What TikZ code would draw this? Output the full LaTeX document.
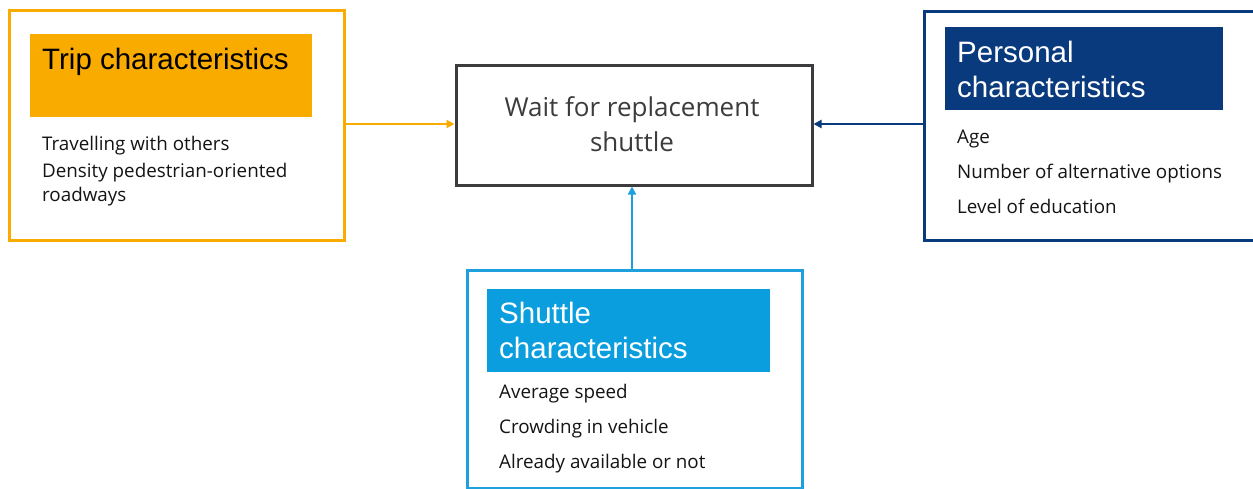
\documentclass[tikz,border=0pt]{standalone}
\usepackage{fontspec}
\setmainfont{Open Sans}
\newfontfamily\headfont{Liberation Sans}
\usetikzlibrary{arrows.meta}
\definecolor{tripor}{RGB}{250,171,0}
\definecolor{persblue}{RGB}{10,58,126}
\definecolor{shutblue}{RGB}{10,158,222}
\definecolor{shutline}{RGB}{30,160,222}
\definecolor{centgray}{RGB}{60,60,62}
\definecolor{centtxt}{RGB}{60,60,60}
\definecolor{bodytxt}{RGB}{20,20,20}
\tikzset{
  frame/.style={draw, line width=3pt, fill=white, inner sep=0pt, anchor=north west},
  header/.style={inner sep=0pt, anchor=north west},
  headtxt/.style={anchor=base west, inner sep=0pt, font=\headfont\fontsize{29.5}{35}\selectfont},
  bodyt/.style={anchor=base west, inner sep=0pt, text=bodytxt, font=\fontsize{18.8}{22}\selectfont},
  centt/.style={anchor=base, inner sep=0pt, text=centtxt, font=\fontsize{26}{30}\selectfont},
  conn/.style={line width=2pt, -{Triangle[length=8pt,width=8pt]}}
}
\begin{document}
\begin{tikzpicture}[x=1pt,y=-1pt]
\useasboundingbox[fill=white] (0,0) rectangle (1253,488);
% left box
\node[frame, draw=tripor, minimum width=335pt, minimum height=230pt] (trip) at (7.5,8.5) {};
\node[header, fill=tripor, minimum width=282pt, minimum height=83pt] (triph) at (30,34) {};
\node[headtxt, text=black] (tript) at (42,69) {Trip characteristics};
\node[bodyt] (trip1) at (42,150) {Travelling with others};
\node[bodyt] (trip2) at (42,177) {Density pedestrian-oriented};
\node[bodyt] (trip3) at (42,201) {roadways};
% center box
\node[frame, draw=centgray, minimum width=356pt, minimum height=120pt] (wait) at (454.5,63.5) {};
\node[centt] (wait1) at (632,116) {Wait for replacement};
\node[centt] (wait2) at (632,151) {shuttle};
% right box
\node[frame, draw=persblue, minimum width=340pt, minimum height=229pt] (pers) at (922.5,9.5) {};
\node[header, fill=persblue, minimum width=278pt, minimum height=83pt] (persh) at (945,27) {};
\node[headtxt, text=white] (perst1) at (957,62) {Personal};
\node[headtxt, text=white] (perst2) at (957,97) {characteristics};
\node[bodyt] (pers1) at (957,143) {Age};
\node[bodyt] (pers2) at (957,178) {Number of alternative options};
\node[bodyt] (pers3) at (957,213) {Level of education};
% bottom box
\node[frame, draw=shutline, minimum width=335pt, minimum height=218pt] (shut) at (465.5,268.5) {};
\node[header, fill=shutblue, minimum width=283pt, minimum height=83pt] (shuth) at (487,289) {};
\node[headtxt, text=white] (shutt1) at (499,323) {Shuttle};
\node[headtxt, text=white] (shutt2) at (499,358) {characteristics};
\node[bodyt] (shut1) at (499,398) {Average speed};
\node[bodyt] (shut2) at (499,433) {Crowding in vehicle};
\node[bodyt] (shut3) at (499,468) {Already available or not};
% connectors
\draw[conn, draw=tripor, fill=tripor] (trip.east |- 0,124) -- (wait.west |- 0,124);
\draw[conn, draw=persblue, fill=persblue] (pers.west |- 0,124) -- (wait.east |- 0,124);
\draw[conn, draw=shutline, fill=shutline] (shut.north -| 632,0) -- (wait.south -| 632,0);
\end{tikzpicture}
\end{document}
